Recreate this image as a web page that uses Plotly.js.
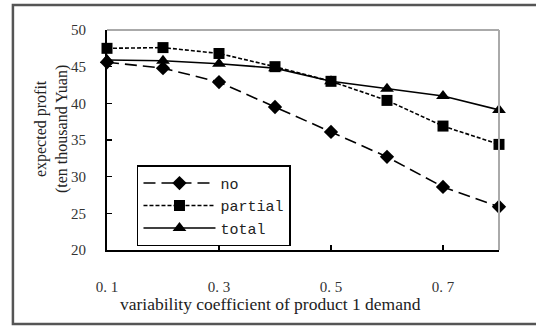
<!DOCTYPE html>
<html>
<head>
<meta charset="utf-8">
<script src="https://cdn.plot.ly/plotly-3.0.1.min.js"></script>
<style>html,body{margin:0;padding:0;background:#fff;}#chart{width:536px;height:327px;}</style>
</head>
<body>
<div id="chart"></div>
<script>
var xValues = [0.1, 0.2, 0.3, 0.4, 0.5, 0.6, 0.7, 0.8];
var noValues = [45.6, 44.8, 42.9, 39.5, 36.1, 32.7, 28.6, 25.9];
var partialValues = [47.5, 47.6, 46.8, 45.0, 43.0, 40.4, 36.9, 34.4];
var totalValues = [45.9, 45.8, 45.4, 44.8, 43.0, 42.0, 41.0, 39.1];
var xTickVals = [0.1, 0.3, 0.5, 0.7];
var xTickText = ["0. 1", "0. 3", "0. 5", "0. 7"];
var seriesNames = ["no", "partial", "total"];
var xTitle = 'variability coefficient of product 1 demand';
var yTitle = 'expected profit<br>(ten thousand Yuan)';

var traces = [
  {x: xValues, y: noValues, name: seriesNames[0], mode: 'lines+markers',
   line: {color: '#000', width: 1.6, dash: '12px,6px'},
   marker: {symbol: 'diamond', size: 11, color: '#000'}, cliponaxis: false},
  {x: xValues, y: partialValues, name: seriesNames[1], mode: 'lines+markers',
   line: {color: '#000', width: 1.6, dash: '4px,2px'},
   marker: {symbol: 'square', size: 11, color: '#000'}, cliponaxis: false},
  {x: xValues, y: totalValues, name: seriesNames[2], mode: 'lines+markers',
   line: {color: '#000', width: 1.6},
   marker: {symbol: 'triangle-up', size: 12, color: '#000'}, cliponaxis: false}
];

var layout = {
  width: 536, height: 327,
  margin: {l: 107, r: 37, t: 30, b: 77},
  paper_bgcolor: '#fff', plot_bgcolor: '#fff',
  font: {family: 'Liberation Serif, serif', color: '#333', size: 15},
  showlegend: true,
  legend: {
    x: 0.0765, y: 0.385, xanchor: 'left', yanchor: 'top',
    bordercolor: '#000', borderwidth: 1.5, bgcolor: '#fff',
    font: {family: 'Liberation Mono, monospace', size: 15, color: '#222'},
    itemwidth: 72,
    tracegroupgap: 0
  },
  xaxis: {
    range: [0.1, 0.8], tickvals: xTickVals, ticktext: xTickText,
    ticks: 'inside', ticklen: 5, tickcolor: '#000', tickwidth: 1.5,
    showline: true, linecolor: '#000', linewidth: 2, showgrid: false, zeroline: false,
    ticklabelstandoff: 22,
    tickfont: {family: 'Liberation Serif, serif', size: 15, color: '#333'}
  },
  yaxis: {
    range: [20, 50], dtick: 5,
    ticks: 'inside', ticklen: 5, tickcolor: '#000', tickwidth: 1.5,
    showline: true, linecolor: '#000', linewidth: 2, showgrid: false, zeroline: false,
    ticklabelstandoff: 16,
    tickfont: {family: 'Liberation Serif, serif', size: 15, color: '#333'}
  },
  annotations: [
    {text: xTitle, xref: 'paper', yref: 'paper', x: (270 - 107) / 392, y: (250 - 304) / 220,
     xanchor: 'center', yanchor: 'middle', showarrow: false,
     font: {family: 'Liberation Serif, serif', size: 17.5, color: '#222'}},
    {text: yTitle, xref: 'paper', yref: 'paper', x: (51 - 107) / 392, y: (250 - 129) / 220,
     xanchor: 'center', yanchor: 'middle', showarrow: false, textangle: -90,
     font: {family: 'Liberation Serif, serif', size: 16, color: '#222'}}
  ],
  shapes: [
    {type: 'line', xref: 'paper', yref: 'paper', x0: 0, x1: 1, y0: 1, y1: 1,
     line: {color: '#aaa', width: 2}},
    {type: 'line', xref: 'paper', yref: 'paper', x0: 1, x1: 1, y0: 0, y1: 1,
     line: {color: '#aaa', width: 2}},
    {type: 'rect', xref: 'paper', yref: 'paper', x0: -0.24, x1: 1.2, y0: -0.336, y1: 1.114,
     line: {color: '#555', width: 2.5}, layer: 'below'}
  ]
};

Plotly.newPlot('chart', traces, layout, {displayModeBar: false, staticPlot: true});
</script>
</body>
</html>
